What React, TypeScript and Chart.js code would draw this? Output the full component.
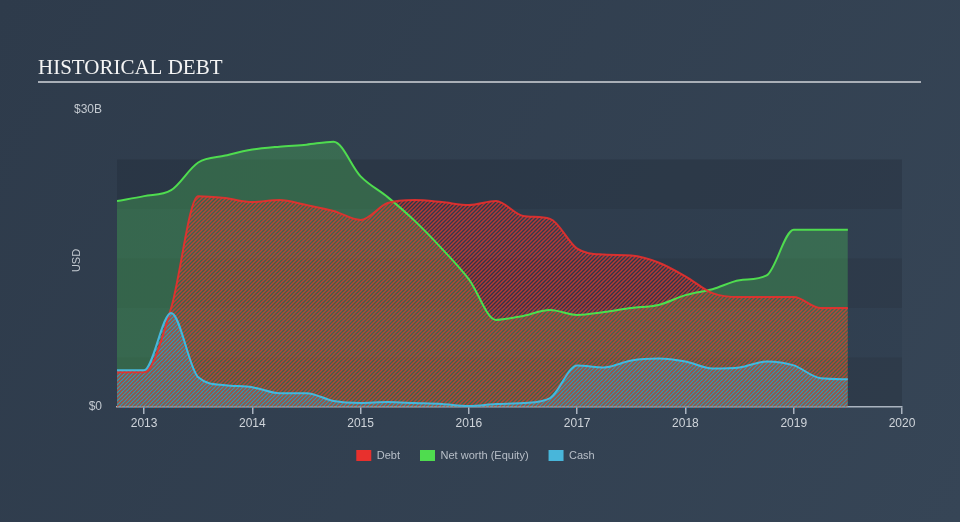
import React, { useEffect, useRef } from 'react';
import { Chart, registerables } from 'chart.js';

Chart.register(...registerables);
Chart.defaults.font.family = "'Liberation Sans', Arial, sans-serif";

const quarters = [
  2012.75, 2013.0, 2013.25, 2013.5, 2013.75, 2014.0, 2014.25, 2014.5, 2014.75,
  2015.0, 2015.25, 2015.5, 2015.75, 2016.0, 2016.25, 2016.5, 2016.75,
  2017.0, 2017.25, 2017.5, 2017.75, 2018.0, 2018.25, 2018.5, 2018.75,
  2019.0, 2019.25, 2019.5,
];
const debt = [
  3.5, 3.5, 10.0, 21.3, 21.1, 20.7, 20.9, 20.4, 19.8,
  18.9, 20.6, 20.9, 20.7, 20.4, 20.8, 19.3, 19.0,
  16.0, 15.4, 15.3, 14.6, 13.2, 11.5, 11.1, 11.1,
  11.1, 10.0, 10.0,
];
const equity = [
  20.8, 21.3, 21.9, 24.7, 25.4, 26.0, 26.3, 26.5, 26.8,
  23.3, 21.2, 18.8, 16.0, 12.9, 8.8, 9.2, 9.8,
  9.3, 9.6, 10.0, 10.3, 11.3, 11.9, 12.8, 13.3,
  17.9, 17.9, 17.9,
];
const cash = [
  3.7, 3.7, 9.5, 3.0, 2.2, 2.0, 1.4, 1.4, 0.6,
  0.4, 0.5, 0.4, 0.3, 0.1, 0.3, 0.4, 0.9,
  4.2, 4.0, 4.7, 4.9, 4.6, 3.9, 4.0, 4.6,
  4.2, 2.9, 2.8,
];
const yTickValues = [0, 30];
const xTickValues = [2013, 2014, 2015, 2016, 2017, 2018, 2019, 2020];
const bandEdges = [0, 5, 10, 15, 20, 25];
const seriesNames = ['Debt', 'Net worth (Equity)', 'Cash'];
const seriesColors = ['#e8302d', '#4fdc4f', '#48b6da'];
const titleText = 'HISTORICAL DEBT';
const axisTitle = 'USD';

function stripePattern(ctx: CanvasRenderingContext2D, color: string, size: number, lw: number, shift: number) {
  const c = document.createElement('canvas');
  c.width = size;
  c.height = size;
  const g = c.getContext('2d')!;
  g.strokeStyle = color;
  g.lineWidth = lw;
  g.beginPath();
  for (let k = -2; k <= 3; k++) {
    const s = k * size + shift;
    g.moveTo(s - size * 2, size * 2);
    g.lineTo(s + size * 2, -size * 2);
  }
  g.stroke();
  return ctx.createPattern(c, 'repeat')!;
}

const decorPlugin = {
  id: 'decor',
  beforeDraw(chart: any) {
    const { ctx, width, height, chartArea } = chart;
    ctx.save();
    const g = ctx.createLinearGradient(0, 0, width, height);
    g.addColorStop(0, '#2e3b4b');
    g.addColorStop(1, '#364556');
    ctx.fillStyle = g;
    ctx.fillRect(0, 0, width, height);

    // bands
    const ys = chart.scales.y;
    for (let i = 0; i < bandEdges.length - 1; i++) {
      const y0 = ys.getPixelForValue(bandEdges[i]);
      const y1 = ys.getPixelForValue(bandEdges[i + 1]);
      ctx.fillStyle = i % 2 === 0 ? 'rgba(30,40,54,0.32)' : 'rgba(30,40,54,0.14)';
      ctx.fillRect(chartArea.left, y1, chartArea.right - chartArea.left, y0 - y1);
    }

    // title
    ctx.fillStyle = '#f4f4f4';
    ctx.font = "21px 'Liberation Serif', 'Times New Roman', serif";
    ctx.textBaseline = 'alphabetic';
    ctx.textAlign = 'left';
    ctx.fillText(titleText, 38, 74);
    ctx.strokeStyle = '#a9afb7';
    ctx.lineWidth = 2;
    ctx.beginPath();
    ctx.moveTo(38, 82);
    ctx.lineTo(921, 82);
    ctx.stroke();

    // axis title
    ctx.translate(77, (chartArea.top + chartArea.bottom) / 2 + 2);
    ctx.rotate(-Math.PI / 2);
    ctx.fillStyle = '#c3c9d0';
    ctx.font = "11px 'Liberation Sans', Arial, sans-serif";
    ctx.textAlign = 'center';
    ctx.textBaseline = 'middle';
    ctx.fillText(axisTitle, 0, 0);
    ctx.restore();
  },
};

export default function App() {
  const ref = useRef<HTMLCanvasElement | null>(null);

  useEffect(() => {
    const canvas = ref.current!;
    const ctx = canvas.getContext('2d')!;
    const debtPattern = stripePattern(ctx, 'rgba(236,52,44,0.72)', 4, 1.5, 0);
    const cashPattern = stripePattern(ctx, 'rgba(64,165,195,0.75)', 4, 1.5, 2);

    const toPts = (arr: number[]) => arr.map((v, i) => ({ x: quarters[i], y: v }));

    const chart = new Chart(ctx, {
      type: 'line',
      data: {
        datasets: [
          {
            label: seriesNames[0],
            data: toPts(debt),
            borderColor: 'rgba(232,48,45,0.9)',
            backgroundColor: debtPattern,
            fill: 'origin',
            borderWidth: 2,
            pointRadius: 0,
            cubicInterpolationMode: 'monotone',
            order: 1,
          },
          {
            label: seriesNames[1],
            data: toPts(equity),
            borderColor: seriesColors[1],
            backgroundColor: 'rgba(80,210,90,0.3)',
            fill: 'origin',
            borderWidth: 2,
            pointRadius: 0,
            cubicInterpolationMode: 'monotone',
            order: 2,
          },
          {
            label: seriesNames[2],
            data: toPts(cash),
            borderColor: seriesColors[2],
            backgroundColor: cashPattern,
            fill: 'origin',
            borderWidth: 2,
            pointRadius: 0,
            cubicInterpolationMode: 'monotone',
            order: 0,
          },
        ],
      },
      options: {
        animation: false,
        responsive: false,
        devicePixelRatio: 1,
        layout: { padding: { top: 110, left: 0, right: 9, bottom: 51 } },
        scales: {
          x: {
            type: 'linear',
            min: 2012.75,
            max: 2020,
            afterBuildTicks: (s: any) => {
              s.ticks = xTickValues.map((v) => ({ value: v }));
            },
            afterFit: (s: any) => {
              s.height = 23;
            },
            ticks: {
              color: '#cfd4da',
              font: { size: 12 },
              padding: 2,
              maxRotation: 0,
              callback: (v: any) => String(v),
            },
            grid: {
              display: true,
              drawOnChartArea: false,
              drawTicks: true,
              tickLength: 7,
              color: '#aab3bf',
              lineWidth: 1.5,
            },
            border: { display: true, color: '#aab3bf', width: 1.5 },
          },
          y: {
            type: 'linear',
            min: 0,
            max: 30,
            afterBuildTicks: (s: any) => {
              s.ticks = yTickValues.map((v) => ({ value: v }));
            },
            afterFit: (s: any) => {
              s.width = 117;
            },
            ticks: {
              color: '#c3c9d0',
              font: { size: 12 },
              padding: 15,
              callback: (v: any) => (v === 0 ? '$0' : '$' + v + 'B'),
            },
            grid: { display: false, drawTicks: false },
            border: { display: false },
          },
          yRight: {
            type: 'linear',
            position: 'right',
            min: 0,
            max: 30,
            afterFit: (s: any) => {
              s.width = 49;
            },
            ticks: { display: false },
            grid: { display: false, drawTicks: false },
            border: { display: false },
          },
        },
        plugins: {
          filler: { drawTime: 'beforeDatasetsDraw' },
          tooltip: { enabled: false },
          legend: {
            position: 'bottom',
            labels: {
              boxWidth: 15,
              boxHeight: 11,
              padding: 20,
              color: '#b8bfc8',
              font: { size: 11 },
              generateLabels: () =>
                seriesNames.map((n, i) => ({
                  text: n,
                  fillStyle: seriesColors[i],
                  strokeStyle: seriesColors[i],
                  lineWidth: 0,
                  hidden: false,
                  datasetIndex: i,
                  fontColor: '#b8bfc8',
                })),
            },
          },
        },
      },
      plugins: [decorPlugin],
    } as any);

    return () => chart.destroy();
  }, []);

  return (
    <div style={{ position: 'fixed', left: 0, top: 0, width: 960, height: 522 }}>
      <canvas ref={ref} width={960} height={522} style={{ display: 'block' }} />
    </div>
  );
}
